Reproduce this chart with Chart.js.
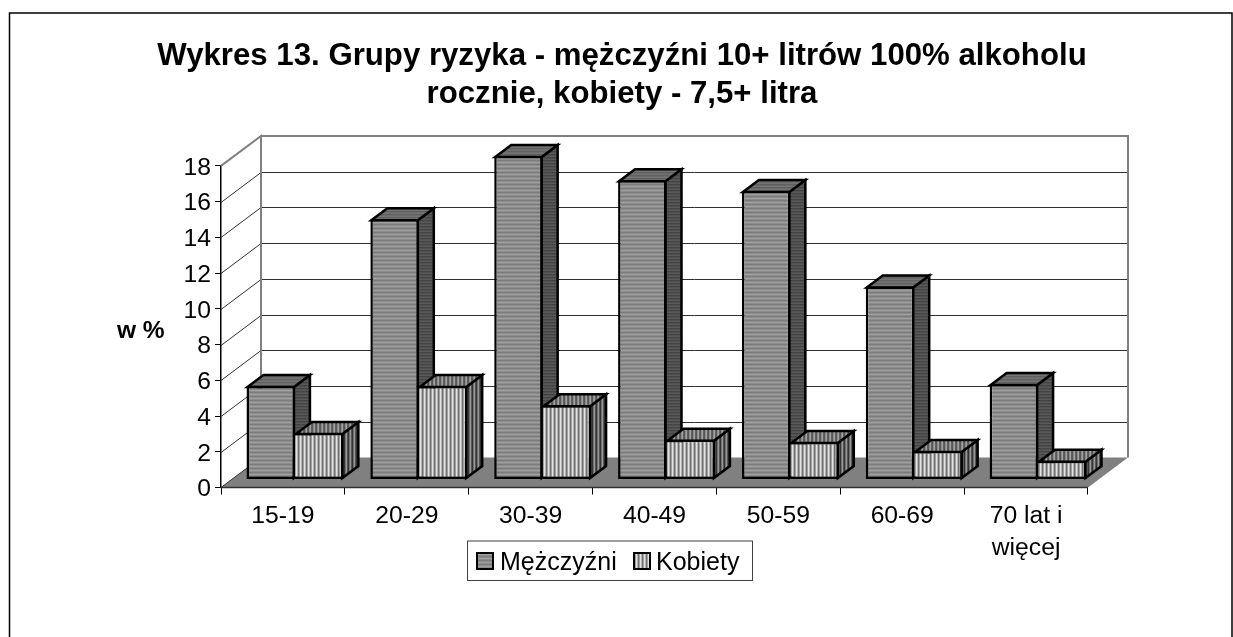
<!DOCTYPE html>
<html><head><meta charset="utf-8">
<style>html,body{margin:0;padding:0;background:#fff}canvas{display:block}</style>
<script src="https://cdn.jsdelivr.net/npm/chart.js@4"></script>
</head><body>
<div style="width:1233px;height:637px;position:relative"><canvas id="c" width="1233" height="637"></canvas></div>
<script>
const titleLines = ['Wykres 13. Grupy ryzyka - mężczyźni 10+ litrów 100% alkoholu', 'rocznie, kobiety - 7,5+ litra'];
const categories = ['15-19', '20-29', '30-39', '40-49', '50-59', '60-69', ['70 lat i', 'więcej']];
const seriesNames = ['Mężczyźni', 'Kobiety'];
const menValues = [5.23, 14.57, 18.1, 16.75, 16.15, 10.8, 5.35];
const womenValues = [2.6, 5.23, 4.16, 2.23, 2.1, 1.6, 1.05];
const yAxisLabel = 'w %';
const FONT = '"Liberation Sans", Arial, sans-serif';

function stripes(colors, vertical) {
  const t = document.createElement('canvas');
  t.width = vertical ? colors.length : 1;
  t.height = vertical ? 1 : colors.length;
  const x = t.getContext('2d');
  colors.forEach((col, i) => {
    x.fillStyle = col;
    if (vertical) x.fillRect(i, 0, 1, 1); else x.fillRect(0, i, 1, 1);
  });
  return x.createPattern(t, 'repeat');
}
const styles = [
  { front: stripes(['#7c7c7c', '#8c8c8c', '#a0a0a0', '#8c8c8c'], false),
    top: stripes(['#606060', '#6c6c6c', '#747474'], false),
    side: stripes(['#444444', '#505050', '#585858'], false) },
  { front: stripes(['#e4e4e4', '#b4b4b4', '#707070', '#a0a0a0'], true),
    top: stripes(['#555555', '#8c8c8c', '#a0a0a0', '#606060'], true),
    side: stripes(['#333333', '#707070', '#999999', '#555555'], true) }
];

const DEPTH_X = 40, DEPTH_Y = -30;      // axis box depth
const PLANE_X = 12, PLANE_Y = -8;       // bars stand this far into the box
const BAR_DX = 16, BAR_DY = -12;        // bar depth
const EDGE = 2.5;                       // bar outline width

const box3d = {
  id: 'box3d',
  beforeDraw(chart) {
    chart.scales.y.getLabelItems(chart.chartArea).forEach(i => { i.options.translation[1] += 2; });
  },
  beforeDatasetsDraw(chart) {
    const { ctx, scales: { x, y } } = chart;
    const L = x.left, R = x.right, T = y.getPixelForValue(18), B = y.getPixelForValue(0);
    ctx.save();
    ctx.fillStyle = '#808080';
    ctx.beginPath();
    ctx.moveTo(L, B); ctx.lineTo(R, B); ctx.lineTo(R + DEPTH_X, B + DEPTH_Y); ctx.lineTo(L + DEPTH_X, B + DEPTH_Y);
    ctx.closePath(); ctx.fill();
    ctx.strokeStyle = '#303030'; ctx.lineWidth = 1;
    y.ticks.forEach(t => {
      if (t.value === 0 || t.value === 18) return;
      const py = Math.round(y.getPixelForValue(t.value)) + 0.5;
      ctx.beginPath();
      ctx.moveTo(L, py); ctx.lineTo(L + DEPTH_X, py + DEPTH_Y); ctx.lineTo(R + DEPTH_X, py + DEPTH_Y);
      ctx.stroke();
    });
    ctx.strokeStyle = '#808080'; ctx.lineWidth = 2;
    ctx.beginPath();
    ctx.moveTo(L, T); ctx.lineTo(L + DEPTH_X, T + DEPTH_Y); ctx.lineTo(L + DEPTH_X, B + DEPTH_Y);
    ctx.moveTo(L + DEPTH_X, T + DEPTH_Y); ctx.lineTo(R + DEPTH_X, T + DEPTH_Y); ctx.lineTo(R + DEPTH_X, B + DEPTH_Y);
    ctx.stroke();
    ctx.strokeStyle = '#303030'; ctx.lineWidth = 1;
    ctx.beginPath(); ctx.moveTo(L, B); ctx.lineTo(L + DEPTH_X, B + DEPTH_Y); ctx.stroke();
    ctx.restore();

    ctx.save();
    ctx.translate(PLANE_X, PLANE_Y);
    // bar sides and tops, first series first; the library then paints the fronts
    chart.getSortedVisibleDatasetMetas().forEach(meta => {
      const st = styles[meta.index];
      ctx.save();
      ctx.strokeStyle = '#000'; ctx.lineWidth = EDGE; ctx.lineJoin = 'miter';
      meta.data.forEach(el => {
        const p = el.getProps(['x', 'y', 'base', 'width'], true);
        const l = p.x - p.width / 2 + 1, r = p.x + p.width / 2 - 1, t = p.y + 1, b = p.base - 1;
        ctx.fillStyle = st.side;
        ctx.beginPath();
        ctx.moveTo(r, t); ctx.lineTo(r + BAR_DX, t + BAR_DY); ctx.lineTo(r + BAR_DX, b + BAR_DY); ctx.lineTo(r, b);
        ctx.closePath(); ctx.fill(); ctx.stroke();
        ctx.fillStyle = st.top;
        ctx.beginPath();
        ctx.moveTo(l, t); ctx.lineTo(l + BAR_DX, t + BAR_DY); ctx.lineTo(r + BAR_DX, t + BAR_DY); ctx.lineTo(r, t);
        ctx.closePath(); ctx.fill(); ctx.stroke();
      });
      ctx.restore();
    });
  },
  afterDatasetsDraw(chart) { chart.ctx.restore(); },
  afterDraw(chart) {
    const { ctx, scales: { x, y } } = chart;
    ctx.save();
    ctx.strokeStyle = '#303030'; ctx.lineWidth = 1.5;
    const B = y.getPixelForValue(0);
    ctx.beginPath(); ctx.moveTo(x.left, B); ctx.lineTo(x.right, B); ctx.stroke();
    ctx.strokeStyle = '#000'; ctx.lineWidth = 1.5;
    ctx.beginPath();
    ctx.moveTo(9.5, 637); ctx.lineTo(9.5, 13); ctx.lineTo(1232, 13); ctx.lineTo(1232, 637);
    ctx.stroke();
    ctx.fillStyle = '#000'; ctx.textBaseline = 'alphabetic'; ctx.textAlign = 'left';
    ctx.font = 'bold 24.5px ' + FONT;
    ctx.fillText(yAxisLabel, 117, 338);
    ctx.fillStyle = '#fff'; ctx.strokeStyle = '#404040'; ctx.lineWidth = 1;
    ctx.fillRect(467.5, 541, 285, 39.5); ctx.strokeRect(467.5, 541, 285, 39.5);
    ctx.font = '25px ' + FONT;
    const swatches = [[477, 500], [634, 656]];
    seriesNames.forEach((name, i) => {
      const [sx, tx] = swatches[i];
      ctx.fillStyle = styles[i].front;
      ctx.fillRect(sx, 553, 16, 16);
      ctx.strokeStyle = '#000'; ctx.lineWidth = 2;
      ctx.strokeRect(sx, 553, 16, 16);
      ctx.fillStyle = '#000';
      ctx.fillText(name, tx, 570);
    });
    ctx.restore();
  }
};

new Chart(document.getElementById('c'), {
  type: 'bar',
  data: {
    labels: categories,
    datasets: [
      { label: seriesNames[0], data: menValues, clip: false,
        backgroundColor: styles[0].front, borderColor: '#000', borderSkipped: false,
        borderWidth: EDGE },
      { label: seriesNames[1], data: womenValues, clip: false,
        backgroundColor: styles[1].front, borderColor: '#000', borderSkipped: false,
        borderWidth: { top: EDGE, bottom: EDGE, right: EDGE, left: 0 } }
    ]
  },
  options: {
    responsive: false,
    animation: false,
    events: [],
    categoryPercentage: 0.782,
    barPercentage: 1,
    layout: { padding: { left: 156, right: 145, top: 0, bottom: 49.5 } },
    plugins: {
      legend: { display: false },
      tooltip: { enabled: false },
      title: {
        display: true,
        text: titleLines,
        color: '#000',
        font: { family: FONT, size: 31.2, weight: 'bold', lineHeight: 1.2 },
        padding: { top: 38, bottom: 53 }
      }
    },
    scales: {
      x: {
        offset: true,
        afterFit(s) { s.height = 100; },
        grid: { drawOnChartArea: false, tickLength: 7, color: '#000', offset: true },
        border: { display: false },
        ticks: { color: '#000', font: { family: FONT, size: 24.7, lineHeight: 1.3 }, padding: 6, maxRotation: 0, autoSkip: false }
      },
      y: {
        min: 0, max: 18,
        afterFit(s) { s.width = 65; },
        grid: { drawOnChartArea: false, tickLength: 6, color: '#000' },
        border: { display: true, color: '#000', width: 1.5 },
        ticks: { color: '#000', stepSize: 2, font: { family: FONT, size: 24.7 }, padding: 4 }
      }
    }
  },
  plugins: [box3d]
});
</script>
</body></html>
